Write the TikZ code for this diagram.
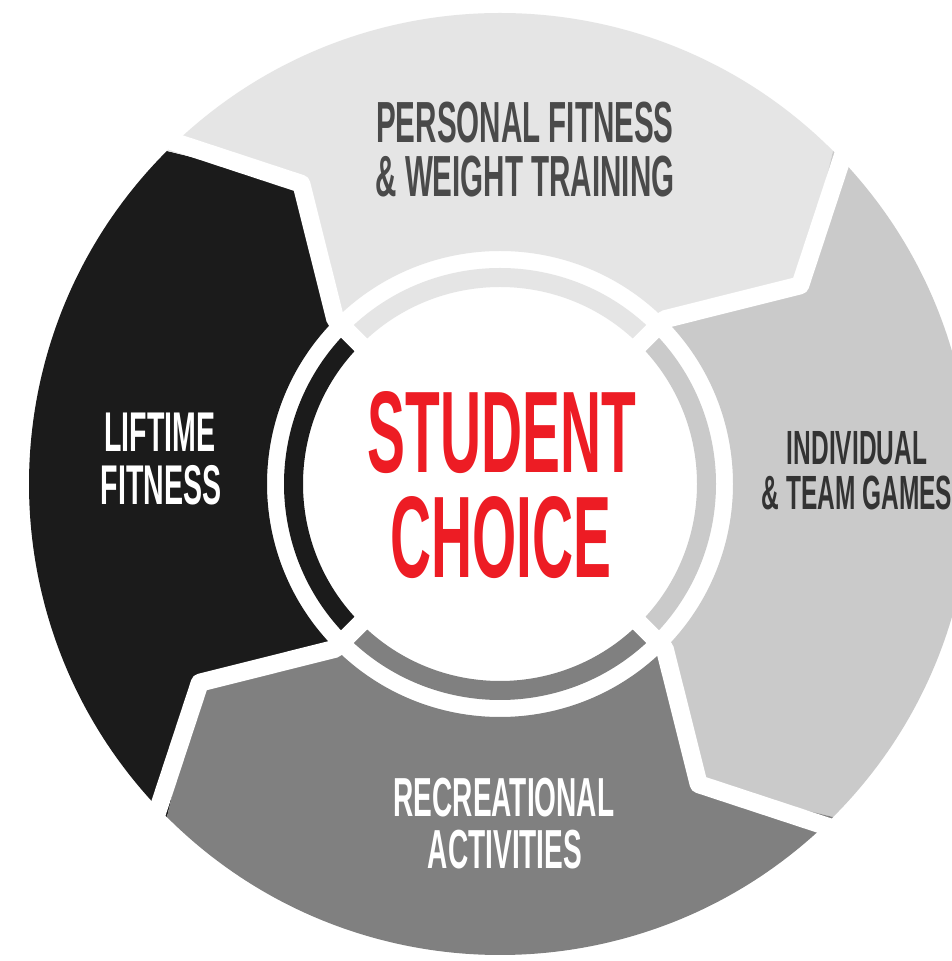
\documentclass[tikz,border=0pt]{standalone}
\usepackage{fontspec}
\newfontfamily\cond[FakeStretch=0.51]{Liberation Sans}
\newfontfamily\condc[FakeStretch=0.49]{Liberation Sans}
\definecolor{segK}{RGB}{27,27,27}
\definecolor{segL}{RGB}{229,229,229}
\definecolor{segM}{RGB}{202,202,202}
\definecolor{segD}{RGB}{128,128,128}
\definecolor{txtTop}{RGB}{74,74,74}
\definecolor{txtRight}{RGB}{51,51,51}
\definecolor{choiceRed}{RGB}{237,28,36}
\tikzset{
  lbl/.style={anchor=base, inner sep=0pt},
  toptxt/.style={lbl, text=txtTop, font=\cond\bfseries\fontsize{58}{58}\selectfont},
  lefttxt/.style={lbl, text=white, font=\cond\bfseries\fontsize{56}{56}\selectfont},
  righttxt/.style={lbl, text=txtRight, font=\cond\bfseries\fontsize{48}{48}\selectfont},
  bottxt/.style={lbl, text=white, font=\cond\bfseries\fontsize{55}{55}\selectfont},
  ctrtxt/.style={lbl, text=choiceRed, font=\condc\bfseries\fontsize{116}{116}\selectfont},
  gapline/.style={white, line width=18pt, line join=round},
}
\begin{document}
\begin{tikzpicture}[x=1pt,y=1pt]
\useasboundingbox (0,0) rectangle (952,961);
\clip (0,0) rectangle (952,961);
\fill[white] (0,0) rectangle (952,961);
\begin{scope}[shift={(500,477)}]
  \foreach \c/\col in {180/segK, 90/segL, 0/segM, 270/segD} {
    \fill[\col] ({\c+45}:233) -- ({\c+33.5}:360) -- ({\c+45}:471)
      arc[start angle={\c+45}, end angle={\c-45}, radius=471]
      -- ({\c-56.5}:360) -- ({\c-45}:233)
      arc[start angle={\c-45}, end angle={\c+45}, radius=233] -- cycle;
    \draw[\col, line width=19pt] ({\c-45}:206.5)
      arc[start angle={\c-45}, end angle={\c+45}, radius=206.5];
  }
  \foreach \a in {45,135,225,315} {
    \draw[gapline] (\a:180) -- (\a:233) -- ({\a-11.5}:360) -- (\a:495);
  }
\end{scope}
\node[toptxt] (pf1) at (525,818) {PERSONAL FITNESS};
\node[toptxt] (pf2) at (525,764) {\& WEIGHT TRAINING};
\node[lefttxt] (lf1) at (160,509) {LIFTIME};
\node[lefttxt] (lf2) at (161,456) {FITNESS};
\node[righttxt] (it1) at (857,496) {INDIVIDUAL};
\node[righttxt] (it2) at (857,451) {\& TEAM GAMES};
\node[bottxt] (ra1) at (504,144) {RECREATIONAL};
\node[bottxt] (ra2) at (505,92) {ACTIVITIES};
\node[ctrtxt] (sc1) at (502,488) {STUDENT};
\node[ctrtxt] (sc2) at (501,383) {CHOICE};
\end{tikzpicture}
\end{document}
